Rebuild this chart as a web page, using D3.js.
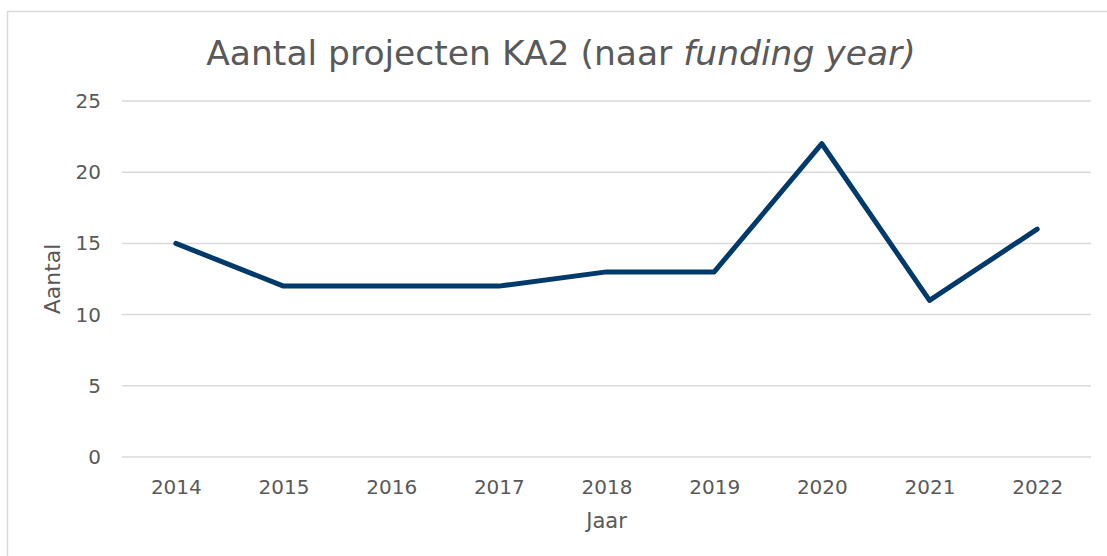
<!DOCTYPE html>
<meta charset="utf-8">
<style>
    body { margin: 0; background: #fff; }
    text { font-family: "DejaVu Sans", Verdana, sans-serif; fill: #595959; }
    .grid line { stroke: #d9d9d9; stroke-width: 1.5; }
</style>
<body>
<script src="https://d3js.org/d3.v7.min.js"></script>
<script>
    var years = ["2014", "2015", "2016", "2017", "2018", "2019", "2020", "2021", "2022"];
    var aantal = [15, 12, 12, 12, 13, 13, 22, 11, 16];
    var yTicks = [0, 5, 10, 15, 20, 25];

    var width = 1107,
        height = 556;

    var margin = {left: 122, right: 16, top: 101, bottom: 99};

    var svg = d3.select("body").append("svg")
        .attr("width", width)
        .attr("height", height);

    // chart frame
    svg.append("rect")
        .attr("x", 7.5).attr("y", 11.5)
        .attr("width", width + 10).attr("height", height + 10)
        .attr("fill", "none")
        .attr("stroke", "#d9d9d9")
        .attr("stroke-width", 1.5);

    var x = d3.scalePoint()
        .domain(years)
        .range([margin.left, width - margin.right])
        .padding(0.5);

    var y = d3.scaleLinear()
        .domain([0, 25])
        .range([height - margin.bottom, margin.top]);

    // gridlines
    svg.append("g").attr("class", "grid")
        .selectAll("line")
        .data(yTicks)
        .enter().append("line")
        .attr("x1", margin.left)
        .attr("x2", width - margin.right)
        .attr("y1", function (d) { return y(d); })
        .attr("y2", function (d) { return y(d); });

    var yAxis = svg.append("g")
        .attr("transform", "translate(" + (margin.left - 21) + ",0)")
        .call(d3.axisLeft(y).tickValues(yTicks).tickSize(0).tickPadding(0));
    yAxis.select(".domain").remove();
    yAxis.selectAll("text").style("font-size", "20px").attr("fill", "#595959");

    var xAxis = svg.append("g")
        .attr("transform", "translate(0," + (height - margin.bottom) + ")")
        .call(d3.axisBottom(x).tickSize(0).tickPadding(23));
    xAxis.select(".domain").remove();
    xAxis.selectAll("text").style("font-size", "20px").attr("fill", "#595959");

    var line = d3.line()
        .x(function (d, i) { return x(years[i]); })
        .y(function (d) { return y(d); });

    svg.append("path")
        .datum(aantal)
        .attr("d", line)
        .attr("fill", "none")
        .attr("stroke", "#003a6b")
        .attr("stroke-width", 5)
        .attr("stroke-linejoin", "round")
        .attr("stroke-linecap", "round");

    // title
    var title = svg.append("text")
        .attr("x", 561)
        .attr("y", 65)
        .attr("text-anchor", "middle")
        .style("font-size", "34.5px");
    title.append("tspan").text("Aantal projecten KA2 (naar ");
    title.append("tspan").style("font-style", "italic").text("funding year)");

    svg.append("text")
        .attr("x", (margin.left + width - margin.right) / 2)
        .attr("y", 528)
        .attr("text-anchor", "middle")
        .style("font-size", "21px")
        .text("Jaar");

    svg.append("text")
        .attr("transform", "translate(60," + ((margin.top + height - margin.bottom) / 2) + ") rotate(-90)")
        .attr("text-anchor", "middle")
        .style("font-size", "22px")
        .text("Aantal");
</script>
</body>
